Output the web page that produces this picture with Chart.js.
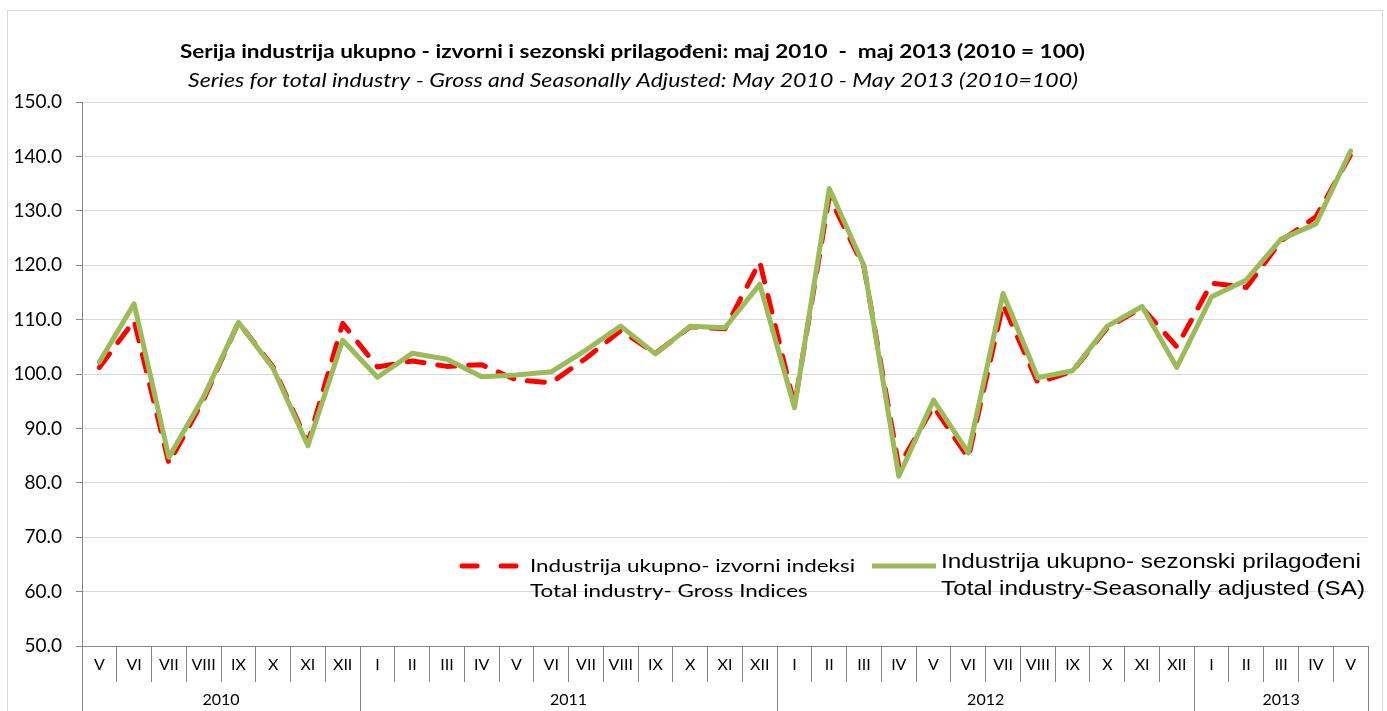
<!DOCTYPE html>
<html>
<head>
<meta charset="utf-8">
<script src="https://cdn.jsdelivr.net/npm/chart.js@4/dist/chart.umd.min.js"></script>
<style>
  html, body { margin: 0; padding: 0; background: #ffffff; }
  #wrap { position: absolute; left: 0; top: 0; width: 1387px; height: 711px; }
</style>
</head>
<body>
<div id="wrap"><canvas id="c" width="1387" height="711"></canvas></div>
<script>
// ---- data ----
const months = ["V","VI","VII","VIII","IX","X","XI","XII",
  "I","II","III","IV","V","VI","VII","VIII","IX","X","XI","XII",
  "I","II","III","IV","V","VI","VII","VIII","IX","X","XI","XII",
  "I","II","III","IV","V"];
const years = ["2010", "2011", "2012", "2013"];
const yearCounts = [8, 12, 12, 5];
const grossIndices = [101.2, 109.8, 83.6, 95.3, 109.5, 101.3, 87.3, 109.3,
  101.3, 102.4, 101.4, 101.7, 98.9, 98.4, 102.9, 108.0, 103.8, 108.7, 108.3, 120.6,
  94.2, 132.6, 119.6, 83.0, 94.0, 84.6, 112.8, 98.4, 100.5, 108.5, 112.2, 105.0,
  116.7, 115.9, 124.5, 128.9, 140.3];
const seasonallyAdjusted = [102.2, 112.9, 84.7, 95.8, 109.5, 101.0, 86.8, 106.2,
  99.4, 103.8, 102.7, 99.5, 99.8, 100.4, 104.4, 108.8, 103.7, 108.8, 108.5, 116.5,
  93.8, 134.1, 119.9, 81.2, 95.2, 85.5, 114.8, 99.3, 100.6, 108.8, 112.4, 101.2,
  114.2, 117.3, 124.8, 127.6, 141.0];
const titleText = "Serija industrija ukupno - izvorni i sezonski prilagođeni: maj 2010  -  maj 2013 (2010 = 100)";
const subtitleText = "Series for total industry - Gross and Seasonally Adjusted: May 2010 - May 2013 (2010=100)";
const legendGross = ["Industrija ukupno- izvorni indeksi", "Total industry- Gross Indices"];
const legendSA = ["Industrija ukupno- sezonski prilagođeni", "Total industry-Seasonally adjusted (SA)"];

const RED = "#ff0000";
const GREEN = "#9bbb59";
const AXIS = "#868686";
const GRID = "#d9d9d9";
const FONT = "Lato, 'Open Sans', sans-serif";

// draw text horizontally stretched so that the first string fits a target width
function stretchedText(ctx, lines, font, x, ys, targetWidth, align) {
  ctx.save();
  ctx.font = font;
  const w = ctx.measureText(lines[0]).width;
  const sx = targetWidth / w;
  ctx.textAlign = align;
  ctx.textBaseline = "middle";
  ctx.translate(x, 0);
  ctx.scale(sx, 1);
  lines.forEach((t, i) => ctx.fillText(t, 0, ys[i]));
  ctx.restore();
}

const decor = {
  id: "decor",
  beforeDraw(chart) {
    const ctx = chart.ctx;
    ctx.save();
    ctx.fillStyle = "#ffffff";
    ctx.fillRect(0, 0, chart.width, chart.height);
    ctx.strokeStyle = "#d9d9d9";
    ctx.lineWidth = 1;
    ctx.strokeRect(7.5, 10.5, 1375, 720);
    ctx.restore();
  },
  afterDraw(chart) {
    const ctx = chart.ctx;
    const xs = chart.scales.x;
    const area = chart.chartArea;
    ctx.save();
    ctx.fillStyle = "#000000";
    // titles
    stretchedText(ctx, [titleText], "bold 19px " + FONT, 632.5, [52], 905, "center");
    stretchedText(ctx, [subtitleText], "italic 19px " + FONT, 633, [81], 890, "center");

    // year row
    const rowTop = area.bottom + 36;
    let start = 0;
    ctx.strokeStyle = AXIS;
    ctx.lineWidth = 1;
    ctx.font = "16px " + FONT;
    ctx.textAlign = "center";
    ctx.textBaseline = "middle";
    const half = (xs.getPixelForValue(1) - xs.getPixelForValue(0)) / 2;
    for (let g = 0; g < years.length; g++) {
      const left = xs.getPixelForValue(start) - half;
      const right = xs.getPixelForValue(start + yearCounts[g] - 1) + half;
      [left, right].forEach(px => {
        const p = Math.round(px) + 0.5;
        ctx.beginPath();
        ctx.moveTo(p, rowTop);
        ctx.lineTo(p, chart.height);
        ctx.stroke();
      });
      ctx.fillStyle = "#000000";
      ctx.fillText(years[g], (left + right) / 2, 700);
      start += yearCounts[g];
    }

    // legend
    ctx.lineCap = "round";
    ctx.lineWidth = 5;
    ctx.strokeStyle = RED;
    ctx.beginPath(); ctx.moveTo(462, 566); ctx.lineTo(477, 566); ctx.stroke();
    ctx.beginPath(); ctx.moveTo(501, 566); ctx.lineTo(516, 566); ctx.stroke();
    ctx.strokeStyle = GREEN;
    ctx.lineCap = "butt";
    ctx.beginPath(); ctx.moveTo(872, 566); ctx.lineTo(936, 566); ctx.stroke();
    ctx.fillStyle = "#000000";
    stretchedText(ctx, legendGross, "18px " + FONT, 530, [566, 591], 325, "left");
    stretchedText(ctx, legendSA, "21px 'Liberation Sans', Arial, sans-serif", 941, [562, 589], 420, "left");
    ctx.restore();
  }
};

new Chart(document.getElementById("c"), {
  type: "line",
  data: {
    labels: months,
    datasets: [
      {
        label: legendGross.join(" "),
        data: grossIndices,
        borderColor: RED,
        backgroundColor: RED,
        borderWidth: 5,
        borderDash: [17, 14],
        borderCapStyle: "round",
        borderJoinStyle: "round",
        pointRadius: 0,
        tension: 0,
        order: 1
      },
      {
        label: legendSA.join(" "),
        data: seasonallyAdjusted,
        borderColor: GREEN,
        backgroundColor: GREEN,
        borderWidth: 5,
        borderJoinStyle: "round",
        borderCapStyle: "round",
        pointRadius: 0,
        tension: 0,
        order: 0
      }
    ]
  },
  options: {
    responsive: false,
    animation: false,
    devicePixelRatio: 1,
    layout: { padding: { left: 0, top: 102, right: 19, bottom: 29 } },
    plugins: {
      legend: { display: false },
      title: { display: false },
      tooltip: { enabled: false }
    },
    scales: {
      x: {
        type: "category",
        offset: true,
        afterFit(s) { s.height = 36; },
        grid: {
          offset: true,
          drawOnChartArea: false,
          drawTicks: true,
          tickLength: 36,
          color: AXIS,
          tickColor: AXIS
        },
        border: { display: true, color: AXIS, width: 1 },
        ticks: {
          autoSkip: false,
          maxRotation: 0,
          minRotation: 0,
          padding: -27,
          color: "#000000",
          font: { family: FONT, size: 16 }
        }
      },
      y: {
        min: 50,
        max: 150,
        afterFit(s) { s.width = 82; },
        grid: {
          color: GRID,
          tickColor: AXIS,
          tickLength: 6,
          drawTicks: true
        },
        border: { display: true, color: AXIS, width: 1 },
        ticks: {
          stepSize: 10,
          padding: 14,
          color: "#000000",
          font: { family: FONT, size: 19 },
          callback: v => Number(v).toFixed(1)
        }
      }
    }
  },
  plugins: [decor]
});
</script>
</body>
</html>
